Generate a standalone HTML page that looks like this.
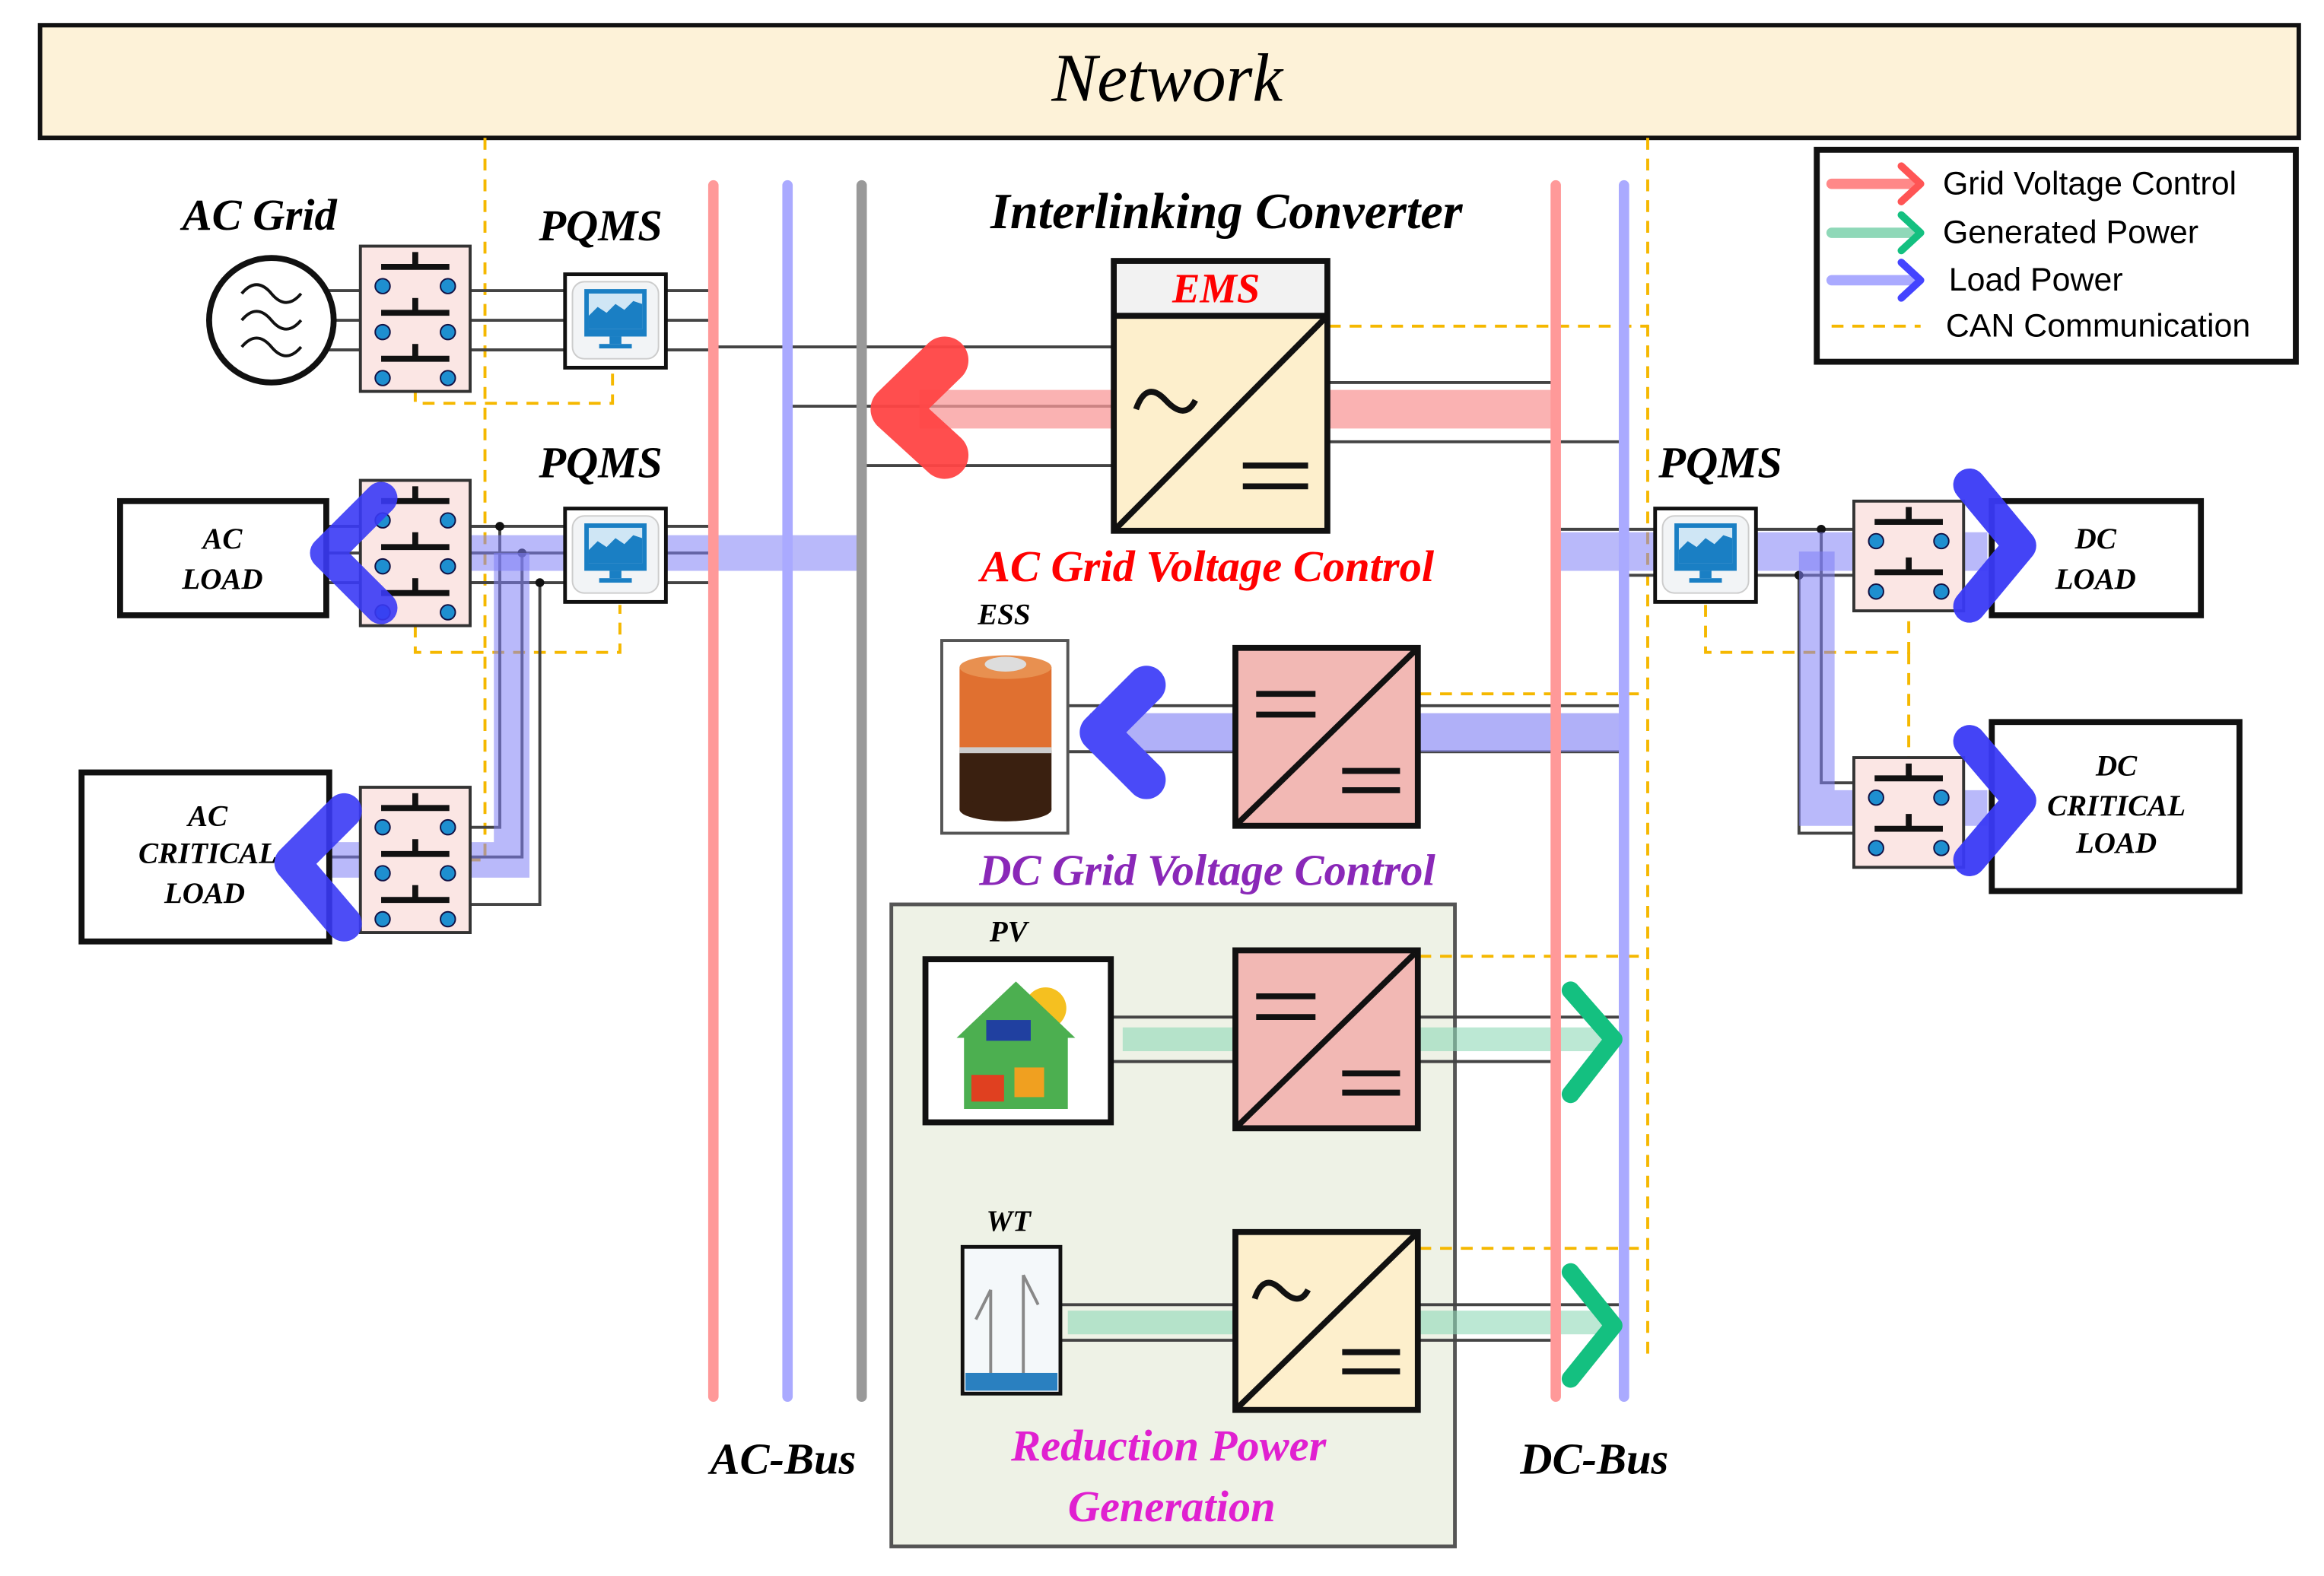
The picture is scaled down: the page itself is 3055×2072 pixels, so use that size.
<!DOCTYPE html>
<html><head><meta charset="utf-8"><style>
html,body{margin:0;padding:0;background:#fff;}
svg{display:block;}
text{font-family:"Liberation Serif",serif;font-style:italic;font-weight:bold;}
.sans{font-family:"Liberation Sans",sans-serif;font-style:normal;font-weight:normal;}
</style></head><body>
<svg width="3055" height="2072" viewBox="0 0 1567 1063" preserveAspectRatio="none" xmlns="http://www.w3.org/2000/svg">
<defs>
<g id="sw">
<rect x="0" y="0" width="74" height="98" fill="#fbe6e4" stroke="#333" stroke-width="2"/>
<g stroke="#111" stroke-width="4"><line x1="37" y1="4" x2="37" y2="14"/><line x1="14" y1="14" x2="60" y2="14"/>
<line x1="37" y1="35" x2="37" y2="45"/><line x1="14" y1="45" x2="60" y2="45"/>
<line x1="37" y1="66" x2="37" y2="76"/><line x1="14" y1="76" x2="60" y2="76"/></g>
<g fill="#1e8fd0" stroke="#114" stroke-width="1"><circle cx="15" cy="27" r="5"/><circle cx="59" cy="27" r="5"/>
<circle cx="15" cy="58" r="5"/><circle cx="59" cy="58" r="5"/><circle cx="15" cy="89" r="5"/><circle cx="59" cy="89" r="5"/></g>
</g>
<g id="sw2">
<rect x="0" y="0" width="74" height="74" fill="#fbe6e4" stroke="#333" stroke-width="2"/>
<g stroke="#111" stroke-width="4"><line x1="37" y1="4" x2="37" y2="14"/><line x1="14" y1="14" x2="60" y2="14"/>
<line x1="37" y1="38" x2="37" y2="48"/><line x1="14" y1="48" x2="60" y2="48"/></g>
<g fill="#1e8fd0" stroke="#114" stroke-width="1"><circle cx="15" cy="27" r="5"/><circle cx="59" cy="27" r="5"/>
<circle cx="15" cy="61" r="5"/><circle cx="59" cy="61" r="5"/></g>
</g>
<g id="pq">
<rect x="0" y="0" width="68" height="63" fill="#fff" stroke="#111" stroke-width="2.5"/>
<rect x="5" y="5" width="58" height="52" rx="8" fill="#f2f4f6" stroke="#ccc"/>
<rect x="13" y="10" width="42" height="32" fill="#1a7fc4"/>
<rect x="16" y="13" width="36" height="24" fill="#cfe6f5"/>
<path d="M16 28 L22 22 L28 26 L34 20 L40 24 L46 18 L52 20 L52 37 L16 37Z" fill="#1a7fc4"/>
<rect x="30" y="42" width="8" height="5" fill="#1a7fc4"/><rect x="23" y="47" width="22" height="3" fill="#1a7fc4"/>
</g>
</defs>

<!-- Renewable group background -->
<rect x="601" y="610" width="380" height="433" fill="#eef2e6" stroke="#555" stroke-width="2.5"/>

<!-- Network -->
<rect x="27" y="17" width="1523" height="76" fill="#fdf2d8" stroke="#111" stroke-width="3"/>
<text x="787" y="68" font-size="46" text-anchor="middle" style="font-weight:normal">Network</text>

<!-- CAN dashed -->
<g stroke="#f5b800" stroke-width="2" stroke-dasharray="8,6" fill="none">
<line x1="327" y1="93" x2="327" y2="582"/>
<line x1="1111" y1="93" x2="1111" y2="915"/>
<polyline points="280,263 280,272 413,272 413,250"/>
<polyline points="280,422 280,440 418,440 418,408"/>
<line x1="316" y1="580" x2="327" y2="580"/>
<line x1="896" y1="220" x2="1111" y2="220"/>
<line x1="957" y1="468" x2="1111" y2="468"/>
<line x1="957" y1="645" x2="1111" y2="645"/>
<line x1="957" y1="842" x2="1111" y2="842"/>
<polyline points="1150,408 1150,440 1287,440 1287,412"/>
<line x1="1287" y1="440" x2="1287" y2="511"/>
</g>

<!-- wires -->
<g stroke="#444" stroke-width="2">
<line x1="215" y1="196" x2="481" y2="196"/><line x1="222" y1="216" x2="481" y2="216"/><line x1="215" y1="236" x2="481" y2="236"/>
<line x1="220" y1="355" x2="481" y2="355"/><line x1="220" y1="373" x2="481" y2="373"/><line x1="220" y1="393" x2="481" y2="393"/>
<polyline points="317,355 337,355 337,558 317,558" fill="none"/>
<polyline points="317,373 352,373 352,578 222,578" fill="none"/>
<polyline points="317,393 364,393 364,610 317,610" fill="none"/>
<line x1="481" y1="234" x2="750" y2="234"/><line x1="531" y1="274" x2="750" y2="274"/><line x1="581" y1="314" x2="750" y2="314"/>
<line x1="896" y1="258" x2="1049" y2="258"/><line x1="896" y1="298" x2="1095" y2="298"/>
<line x1="720" y1="476" x2="832" y2="476"/><line x1="720" y1="507" x2="832" y2="507"/>
<line x1="957" y1="476" x2="1095" y2="476"/><line x1="957" y1="507" x2="1095" y2="507"/>
<line x1="749" y1="686" x2="832" y2="686"/><line x1="749" y1="716" x2="832" y2="716"/>
<line x1="957" y1="686" x2="1095" y2="686"/><line x1="957" y1="716" x2="1049" y2="716"/>
<line x1="715" y1="880" x2="832" y2="880"/><line x1="715" y1="904" x2="832" y2="904"/>
<line x1="957" y1="880" x2="1095" y2="880"/><line x1="957" y1="904" x2="1049" y2="904"/>
<line x1="1049" y1="357" x2="1250" y2="357"/><line x1="1095" y1="388" x2="1250" y2="388"/>
<polyline points="1228,357 1228,528 1250,528" fill="none"/>
<polyline points="1213,388 1213,562 1250,562" fill="none"/>
</g>
<g fill="#111"><circle cx="337" cy="355" r="3"/><circle cx="352" cy="373" r="3"/><circle cx="364" cy="393" r="3"/><circle cx="1228" cy="357" r="3"/><circle cx="1213" cy="388" r="3"/></g>

<!-- Power bands -->
<g fill="none" stroke-linejoin="miter">
<polyline points="583,373 243,373" stroke="#7f7ff5" stroke-opacity="0.55" stroke-width="24"/>
<polyline points="345,373 345,580 222,580" stroke="#7f7ff5" stroke-opacity="0.55" stroke-width="24"/>
<line x1="620" y1="276" x2="1049" y2="276" stroke="#f89898" stroke-opacity="0.75" stroke-width="26"/>
<line x1="735" y1="494" x2="1095" y2="494" stroke="#8f8ff5" stroke-opacity="0.7" stroke-width="26"/>
<line x1="757" y1="701" x2="1085" y2="701" stroke="#8fd8b8" stroke-opacity="0.6" stroke-width="16"/>
<line x1="720" y1="892" x2="1085" y2="892" stroke="#8fd8b8" stroke-opacity="0.6" stroke-width="16"/>
<line x1="1049" y1="372" x2="1340" y2="372" stroke="#7f7ff5" stroke-opacity="0.55" stroke-width="26"/>
<polyline points="1225,372 1225,545 1340,545" stroke="#7f7ff5" stroke-opacity="0.55" stroke-width="24"/>
</g>

<!-- Buses -->
<g stroke-width="7" stroke-linecap="round">
<line x1="481" y1="125" x2="481" y2="942" stroke="#f99"/>
<line x1="531" y1="125" x2="531" y2="942" stroke="#aaf"/>
<line x1="581" y1="125" x2="581" y2="942" stroke="#999"/>
<line x1="1049" y1="125" x2="1049" y2="942" stroke="#f99"/>
<line x1="1095" y1="125" x2="1095" y2="942" stroke="#aaf"/>
</g>

<!-- AC grid -->
<text x="175" y="155" font-size="30" text-anchor="middle">AC Grid</text>
<circle cx="183" cy="216" r="42" fill="#fff" stroke="#111" stroke-width="4"/>
<g fill="none" stroke="#111" stroke-width="2">
<path d="M163 198 q10 -12 20 0 t20 0"/><path d="M163 216 q10 -12 20 0 t20 0"/><path d="M163 234 q10 -12 20 0 t20 0"/>
</g>
<use href="#sw" x="243" y="166"/>
<text x="405" y="162" font-size="30" text-anchor="middle">PQMS</text>
<use href="#pq" x="381" y="185"/>

<!-- AC Load -->
<rect x="81" y="338" width="139" height="77" fill="#fff" stroke="#111" stroke-width="4"/>
<text x="150" y="370" font-size="20" text-anchor="middle">AC</text>
<text x="150" y="397" font-size="20" text-anchor="middle">LOAD</text>
<use href="#sw" x="243" y="324"/>
<text x="405" y="322" font-size="30" text-anchor="middle">PQMS</text>
<use href="#pq" x="381" y="343"/>
<polyline points="257,336 220,373 257,410" fill="none" stroke="#3a3af5" stroke-opacity="0.9" stroke-width="22" stroke-linecap="round" stroke-linejoin="round"/>

<!-- AC critical -->
<rect x="55" y="521" width="167" height="114" fill="#fff" stroke="#111" stroke-width="4"/>
<text x="140" y="557" font-size="20" text-anchor="middle">AC</text>
<text x="140" y="582" font-size="20" text-anchor="middle">CRITICAL</text>
<text x="138" y="609" font-size="20" text-anchor="middle">LOAD</text>
<use href="#sw" x="243" y="531"/>
<polyline points="232,547 197,582 232,623" fill="none" stroke="#3a3af5" stroke-opacity="0.9" stroke-width="24" stroke-linecap="round" stroke-linejoin="round"/>

<!-- Interlinking converter -->
<text x="827" y="154" font-size="34" text-anchor="middle">Interlinking Converter</text>
<rect x="751" y="176" width="144" height="182" fill="#fdefcc" stroke="#111" stroke-width="4"/>
<rect x="753" y="178" width="140" height="35" fill="#f2f2f2"/>
<line x1="751" y1="213" x2="895" y2="213" stroke="#111" stroke-width="4"/>
<text x="820" y="204" font-size="28" fill="#f00" text-anchor="middle">EMS</text>
<line x1="753" y1="356" x2="893" y2="215" stroke="#111" stroke-width="4"/>
<path d="M766 276 q7 -20 20 -6 t20 0" fill="none" stroke="#111" stroke-width="4"/>
<g stroke="#111" stroke-width="4"><line x1="838" y1="314" x2="882" y2="314"/><line x1="838" y1="328" x2="882" y2="328"/></g>
<polyline points="637,243 603,276 637,307" fill="none" stroke="#f44" stroke-opacity="0.95" stroke-width="32" stroke-linecap="round" stroke-linejoin="round"/>
<text x="814" y="392" font-size="30" fill="#f00" text-anchor="middle">AC Grid Voltage Control</text>

<!-- ESS -->
<text x="677" y="421" font-size="20" text-anchor="middle">ESS</text>
<rect x="635" y="432" width="85" height="130" fill="#fff" stroke="#555" stroke-width="2"/>
<rect x="647" y="450" width="62" height="56" fill="#e07030"/>
<rect x="647" y="506" width="62" height="40" fill="#3a2010"/>
<ellipse cx="678" cy="546" rx="31" ry="8" fill="#3a2010"/>
<ellipse cx="678" cy="450" rx="31" ry="8" fill="#e89050"/>
<ellipse cx="678" cy="448" rx="14" ry="5" fill="#ddd"/>
<rect x="647" y="504" width="62" height="4" fill="#ccc"/>
<polyline points="773,462 741,494 773,526" fill="none" stroke="#4a4af8" stroke-width="26" stroke-linecap="round" stroke-linejoin="round"/>
<rect x="833" y="437" width="123" height="120" fill="#f2b8b4" stroke="#111" stroke-width="4"/>
<line x1="835" y1="555" x2="954" y2="439" stroke="#111" stroke-width="4"/>
<g stroke="#111" stroke-width="4"><line x1="847" y1="468" x2="887" y2="468"/><line x1="847" y1="482" x2="887" y2="482"/><line x1="905" y1="520" x2="944" y2="520"/><line x1="905" y1="533" x2="944" y2="533"/></g>
<text x="814" y="597" font-size="30" fill="#8a28b8" text-anchor="middle">DC Grid Voltage Control</text>

<!-- PV -->
<text x="680" y="635" font-size="20" text-anchor="middle">PV</text>
<rect x="624" y="647" width="125" height="110" fill="#fff" stroke="#111" stroke-width="4"/>
<circle cx="705" cy="680" r="14" fill="#f5c020"/>
<path d="M645 700 L685 662 L725 700 L720 700 L720 748 L650 748 L650 700Z" fill="#4caf50"/>
<rect x="665" y="688" width="30" height="14" fill="#2040a0"/>
<rect x="655" y="725" width="22" height="18" fill="#e04020"/>
<rect x="684" y="720" width="20" height="20" fill="#f0a020"/>
<rect x="833" y="641" width="123" height="120" fill="#f2b8b4" stroke="#111" stroke-width="4"/>
<line x1="835" y1="759" x2="954" y2="643" stroke="#111" stroke-width="4"/>
<g stroke="#111" stroke-width="4"><line x1="847" y1="672" x2="887" y2="672"/><line x1="847" y1="686" x2="887" y2="686"/><line x1="905" y1="724" x2="944" y2="724"/><line x1="905" y1="737" x2="944" y2="737"/></g>
<polyline points="1059,668 1088,701 1059,738" fill="none" stroke="#14c080" stroke-width="12" stroke-linecap="round" stroke-linejoin="round"/>

<!-- WT -->
<text x="680" y="830" font-size="20" text-anchor="middle">WT</text>
<rect x="649" y="841" width="66" height="99" fill="#f4f8fa" stroke="#111" stroke-width="2.5"/>
<g stroke="#888" stroke-width="2"><line x1="668" y1="870" x2="668" y2="930"/><line x1="690" y1="860" x2="690" y2="930"/><line x1="668" y1="870" x2="658" y2="890"/><line x1="690" y1="860" x2="700" y2="880"/></g>
<rect x="651" y="926" width="62" height="12" fill="#2a80c0"/>
<rect x="833" y="831" width="123" height="120" fill="#fdefcc" stroke="#111" stroke-width="4"/>
<line x1="835" y1="949" x2="954" y2="833" stroke="#111" stroke-width="4"/>
<path d="M846 876 q6 -18 18 -6 t18 0" fill="none" stroke="#111" stroke-width="4"/>
<g stroke="#111" stroke-width="4"><line x1="905" y1="912" x2="944" y2="912"/><line x1="905" y1="925" x2="944" y2="925"/></g>
<polyline points="1059,858 1088,894 1059,930" fill="none" stroke="#14c080" stroke-width="12" stroke-linecap="round" stroke-linejoin="round"/>
<text x="788" y="985" font-size="30" fill="#e020d0" text-anchor="middle">Reduction Power</text>
<text x="790" y="1026" font-size="30" fill="#e020d0" text-anchor="middle">Generation</text>

<text x="528" y="994" font-size="30" text-anchor="middle">AC-Bus</text>
<text x="1075" y="994" font-size="30" text-anchor="middle">DC-Bus</text>

<!-- DC side -->
<text x="1160" y="322" font-size="30" text-anchor="middle">PQMS</text>
<use href="#pq" x="1116" y="343"/>
<use href="#sw2" x="1250" y="338"/>
<use href="#sw2" x="1250" y="511"/>
<rect x="1343" y="338" width="141" height="77" fill="#fff" stroke="#111" stroke-width="4"/>
<text x="1413" y="370" font-size="20" text-anchor="middle">DC</text>
<text x="1413" y="397" font-size="20" text-anchor="middle">LOAD</text>
<rect x="1343" y="487" width="167" height="114" fill="#fff" stroke="#111" stroke-width="4"/>
<text x="1427" y="523" font-size="20" text-anchor="middle">DC</text>
<text x="1427" y="550" font-size="20" text-anchor="middle">CRITICAL</text>
<text x="1427" y="575" font-size="20" text-anchor="middle">LOAD</text>
<polyline points="1328,327 1362,368 1328,409" fill="none" stroke="#3a3af5" stroke-opacity="0.95" stroke-width="22" stroke-linecap="round" stroke-linejoin="round"/>
<polyline points="1328,500 1362,540 1328,580" fill="none" stroke="#3a3af5" stroke-opacity="0.95" stroke-width="22" stroke-linecap="round" stroke-linejoin="round"/>

<!-- Legend -->
<rect x="1225" y="101" width="323" height="143" fill="#fff" stroke="#111" stroke-width="4"/>
<g fill="none" stroke-width="5" stroke-linecap="round" stroke-linejoin="round">
<line x1="1235" y1="124" x2="1292" y2="124" stroke="#f88" stroke-width="7"/><polyline points="1282,112 1295,124 1282,136" stroke="#f55"/>
<line x1="1235" y1="157" x2="1292" y2="157" stroke="#8fd8b8" stroke-width="7"/><polyline points="1282,145 1295,157 1282,169" stroke="#14c080"/>
<line x1="1235" y1="189" x2="1292" y2="189" stroke="#aaf" stroke-width="7"/><polyline points="1282,177 1295,189 1282,201" stroke="#44f"/>
</g>
<line x1="1235" y1="220" x2="1295" y2="220" stroke="#f5b800" stroke-width="2" stroke-dasharray="8,6"/>
<text class="sans" x="1310" y="131" font-size="22">Grid Voltage Control</text>
<text class="sans" x="1310" y="164" font-size="22">Generated Power</text>
<text class="sans" x="1314" y="196" font-size="22">Load Power</text>
<text class="sans" x="1312" y="227" font-size="22">CAN Communication</text>
</svg>
</body></html>
